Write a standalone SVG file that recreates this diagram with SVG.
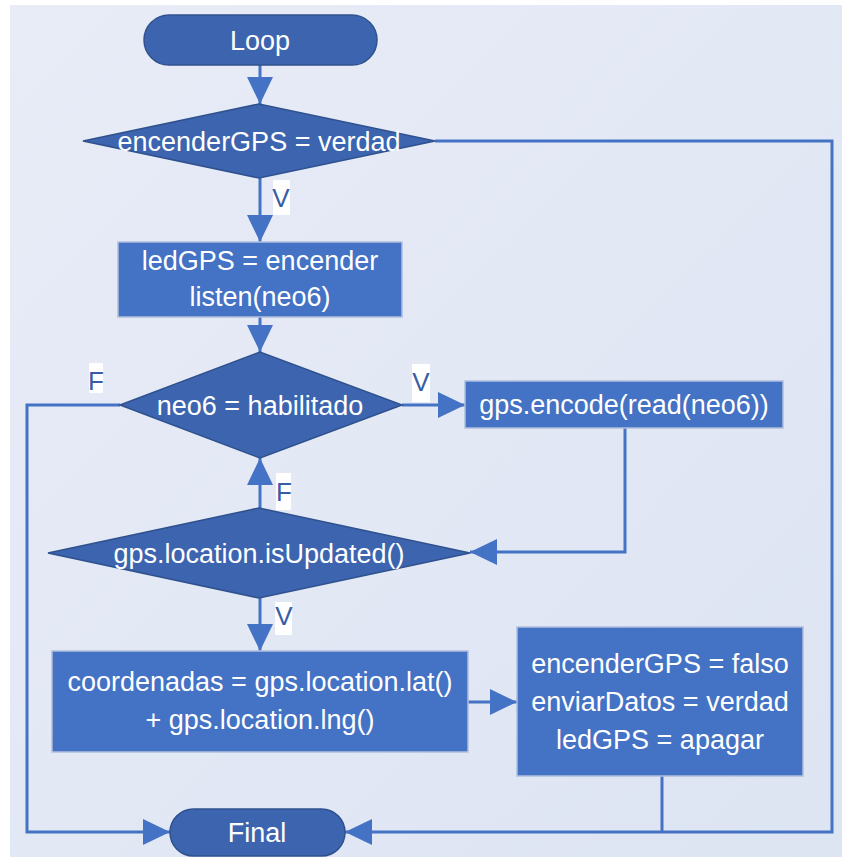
<svg xmlns="http://www.w3.org/2000/svg" width="842" height="857" viewBox="0 0 842 857">
  <defs>
    <linearGradient id="bg" x1="0" y1="0" x2="1" y2="1">
      <stop offset="0" stop-color="#e8ecf7"/>
      <stop offset="1" stop-color="#dde4f2"/>
    </linearGradient>
    <marker id="arrow" viewBox="0 0 27 26" refX="27" refY="13" markerWidth="27" markerHeight="26" markerUnits="userSpaceOnUse" orient="auto">
      <path d="M0,0 L27,13 L0,26 Z" fill="#4472c4"/>
    </marker>
    <style>
      .term { fill: #3d64ae; stroke: #2f528f; stroke-width: 1.5; }
      .dec { fill: #3d64ae; stroke: #2f528f; stroke-width: 1.5; }
      .proc { fill: #4472c4; stroke: #b0bfdd; stroke-width: 1.5; }
      .txt { font-family: "Liberation Sans", Arial, sans-serif; font-size: 27px; fill: #ffffff; text-anchor: middle; }
      .edge { fill: none; stroke: #4472c4; stroke-width: 3; }
      .lblbg { fill: #ffffff; }
      .lbl { font-family: "Liberation Sans", Arial, sans-serif; font-size: 26px; fill: #3a5ca5; text-anchor: middle; }
    </style>
  </defs>

  <!-- canvas -->
  <rect x="10" y="5" width="832" height="852" fill="url(#bg)"/>

  <!-- connectors -->
  <g id="connectors">
    <path class="edge" d="M260,65 V104" marker-end="url(#arrow)"/>
    <path class="edge" d="M260,178 V242" marker-end="url(#arrow)"/>
    <path class="edge" d="M260,317 V352" marker-end="url(#arrow)"/>
    <path class="edge" d="M402,405 H465" marker-end="url(#arrow)"/>
    <path class="edge" d="M625,428 V552 H470" marker-end="url(#arrow)"/>
    <path class="edge" d="M260,508 V458" marker-end="url(#arrow)"/>
    <path class="edge" d="M260,598 V651" marker-end="url(#arrow)"/>
    <path class="edge" d="M468,702 H517" marker-end="url(#arrow)"/>
    <path class="edge" d="M120,405 H27 V832 H170" marker-end="url(#arrow)"/>
    <path class="edge" d="M435,141 H832 V832 H345" marker-end="url(#arrow)"/>
    <path class="edge" d="M662,776 V832"/>

    <!-- branch labels -->
    <g id="lbl-v1"><rect class="lblbg" x="273" y="180" width="17" height="35"/><text class="lbl" x="281" y="207">V</text></g>
    <g id="lbl-f1"><rect class="lblbg" x="89" y="363" width="14" height="30"/><text class="lbl" x="96" y="390">F</text></g>
    <g id="lbl-v2"><rect class="lblbg" x="412" y="364" width="18" height="38"/><text class="lbl" x="421" y="391">V</text></g>
    <g id="lbl-f2"><rect class="lblbg" x="276" y="473" width="15" height="37"/><text class="lbl" x="284" y="501">F</text></g>
    <g id="lbl-v3"><rect class="lblbg" x="275" y="602" width="17" height="33"/><text class="lbl" x="284" y="625">V</text></g>
  </g>

  <!-- nodes -->
  <g id="loop">
    <rect class="term" x="144" y="15" width="233" height="50" rx="25"/>
    <text class="txt" x="260" y="50">Loop</text>
  </g>

  <g id="dec-encender">
    <polygon class="dec" points="83,141 259,104 435,141 259,178"/>
    <text class="txt" x="259" y="151">encenderGPS = verdad</text>
  </g>

  <g id="proc-led-on">
    <rect class="proc" x="118" y="242" width="284" height="75"/>
    <text class="txt" x="260" y="270">ledGPS = encender</text>
    <text class="txt" x="260" y="306">listen(neo6)</text>
  </g>

  <g id="dec-neo6">
    <polygon class="dec" points="120,405 260,352 402,405 260,458"/>
    <text class="txt" x="260" y="415">neo6 = habilitado</text>
  </g>

  <g id="proc-encode">
    <rect class="proc" x="465" y="381" width="318" height="47"/>
    <text class="txt" x="624" y="414">gps.encode(read(neo6))</text>
  </g>

  <g id="dec-updated">
    <polygon class="dec" points="48,553 259,508 470,553 259,598"/>
    <text class="txt" x="259" y="563">gps.location.isUpdated()</text>
  </g>

  <g id="proc-coords">
    <rect class="proc" x="52" y="651" width="416" height="101"/>
    <text class="txt" x="260" y="691">coordenadas = gps.location.lat()</text>
    <text class="txt" x="260" y="729">+ gps.location.lng()</text>
  </g>

  <g id="proc-finish">
    <rect class="proc" x="517" y="627" width="286" height="149"/>
    <text class="txt" x="660" y="673">encenderGPS = falso</text>
    <text class="txt" x="660" y="711">enviarDatos = verdad</text>
    <text class="txt" x="660" y="749">ledGPS = apagar</text>
  </g>

  <g id="final">
    <rect class="term" x="170" y="809" width="175" height="47" rx="23.5"/>
    <text class="txt" x="257" y="842">Final</text>
  </g>
</svg>
